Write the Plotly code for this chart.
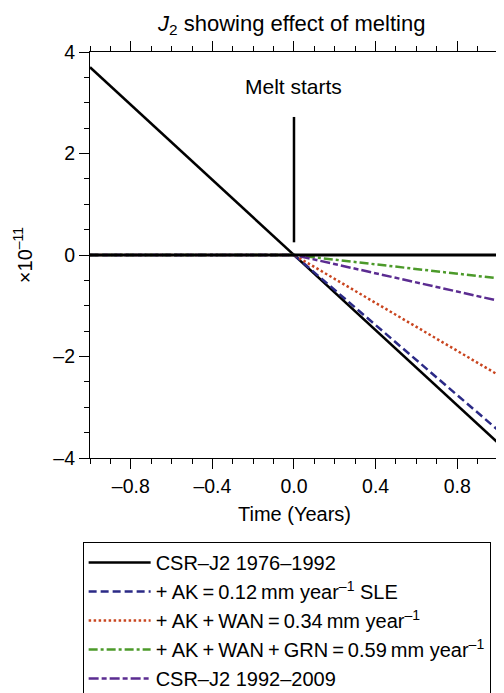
import plotly.graph_objects as go

# Data
time_x = [-1.0, 0.0, 1.0]
csr_1976_1992 = [3.7, 0.0, -3.7]
ak_only = [0.0, 0.0, -3.45]
ak_wan = [0.0, 0.0, -2.36]
ak_wan_grn = [0.0, 0.0, -0.46]
csr_1992_2009 = [0.0, 0.0, -0.9]
zero_x = [-1.0, 1.0]
zero_y = [0.0, 0.0]
melt_x = [0.0, 0.0]
melt_y = [0.25, 2.72]

x_tickvals = [-0.8, -0.4, 0.0, 0.4, 0.8]
x_ticktext = ["–0.8", "–0.4", "0.0", "0.4", "0.8"]
y_tickvals = [-4, -2, 0, 2, 4]
y_ticktext = ["–4", "–2", "0", "2", "4"]

FONT = "Liberation Sans, Arial, sans-serif"
TS = "\u2009"

fig = go.Figure()

series = [
    ("CSR–J2 1976–1992", csr_1976_1992, "black", "solid", 2.5),
    ("+ AK" + TS + "=" + TS + "0.12" + TS + "mm year<sup>–1</sup> SLE", ak_only, "#2b2a86", "8px,4px", 2.5),
    ("+ AK" + TS + "+" + TS + "WAN" + TS + "=" + TS + "0.34" + TS + "mm year<sup>–1</sup>", ak_wan, "#c9451f", "2.5px,2.5px", 2.5),
    ("+ AK" + TS + "+" + TS + "WAN" + TS + "+" + TS + "GRN" + TS + "=" + TS + "0.59" + TS + "mm year<sup>–1</sup>", ak_wan_grn, "#4c9a2a", "9px,3px,3px,3px", 2.5),
    ("CSR–J2 1992–2009", csr_1992_2009, "#5b2c91", "10px,3px,5px,3px", 2.5),
]

for i, (name, ys, col, dash, w) in enumerate(series):
    fig.add_trace(go.Scatter(
        x=time_x, y=ys, mode="lines", name=name,
        line=dict(color=col, dash=dash, width=w),
        legendgroup="g%d" % i,
    ))

fig.add_trace(go.Scatter(x=zero_x, y=zero_y, mode="lines",
                         line=dict(color="black", width=3), showlegend=False))
fig.add_trace(go.Scatter(x=melt_x, y=melt_y, mode="lines",
                         line=dict(color="black", width=2.5), showlegend=False))

fig.add_annotation(x=0, y=3.33, text="Melt starts", showarrow=False,
                   font=dict(size=21, color="black", family=FONT))

axis_common = dict(
    showline=True, linecolor="black", linewidth=1.2, mirror="ticks",
    ticks="outside", ticklen=10, tickwidth=1.2, tickcolor="black",
    showgrid=False, zeroline=False,
    tickfont=dict(size=19.5, color="black", family=FONT),
)

fig.update_xaxes(range=[-1.0, 1.005], tickvals=x_tickvals, ticktext=x_ticktext,
                 minor=dict(dtick=0.1, tick0=0, ticks="outside", ticklen=5,
                            tickwidth=1.2, tickcolor="black"),
                 title=dict(text="Time (Years)", font=dict(size=20, color="black", family=FONT), standoff=11),
                 **axis_common)
fig.update_yaxes(range=[-4, 4], tickvals=y_tickvals, ticktext=y_ticktext,
                 minor=dict(dtick=0.5, tick0=0, ticks="outside", ticklen=5,
                            tickwidth=1.2, tickcolor="black"),
                 title=dict(text="×10<sup>–11</sup>", font=dict(size=20, color="black", family=FONT), standoff=15),
                 **axis_common)

# page body has an 8px margin; compensate so the plot lands where the reference has it
fig.update_layout(
    width=496, height=685,
    margin=dict(l=82, r=5, t=44, b=235, autoexpand=False),
    paper_bgcolor="white", plot_bgcolor="white",
    font=dict(family=FONT, size=19, color="black"),
    title=dict(text="<i>J</i><sub>2</sub> showing effect of melting", x=0.572, xanchor="center",
               y=0.978, yanchor="middle", font=dict(size=22, color="black", family=FONT)),
    legend=dict(x=-0.018, y=-0.207, xanchor="left", yanchor="top",
                bordercolor="black", borderwidth=1, bgcolor="white",
                font=dict(size=20, color="black", family=FONT),
                itemwidth=62, tracegroupgap=0),
    showlegend=True,
)

fig.write_html("out.html")
